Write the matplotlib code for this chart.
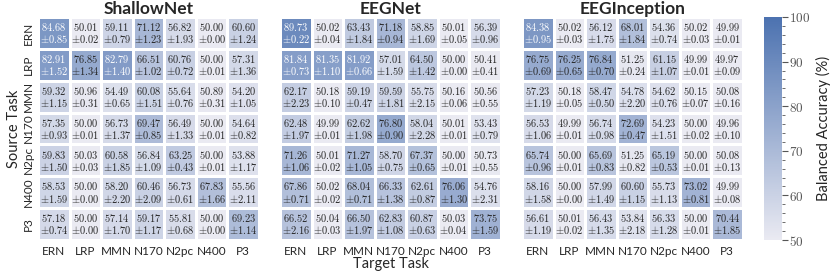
import numpy as np
import matplotlib
matplotlib.use("Agg")
import matplotlib.pyplot as plt
from matplotlib.colors import LinearSegmentedColormap

plt.rcParams["mathtext.fontset"] = "cm"
plt.rcParams["font.family"] = ["Lato", "DejaVu Sans"]

# === Data ===
tasks = ["ERN", "LRP", "MMN", "N170", "N2pc", "N400", "P3"]
models = ["ShallowNet", "EEGNet", "EEGInception"]

shallow_mean = [
    [84.68, 50.01, 59.11, 71.12, 56.82, 50.00, 60.60],
    [82.91, 76.85, 82.79, 66.51, 60.76, 50.00, 57.31],
    [59.32, 50.96, 54.49, 60.08, 55.64, 50.89, 54.20],
    [57.35, 50.00, 56.73, 69.47, 56.49, 50.00, 54.64],
    [59.83, 50.03, 60.58, 56.84, 63.25, 50.00, 53.88],
    [58.53, 50.00, 58.20, 60.46, 56.73, 67.83, 55.56],
    [57.18, 50.00, 57.14, 59.17, 55.81, 50.00, 69.23],
]
shallow_std = [
    [0.85, 0.02, 0.79, 1.23, 1.93, 0.00, 1.24],
    [1.52, 1.34, 1.40, 1.02, 0.72, 0.01, 1.36],
    [1.15, 0.31, 0.65, 1.51, 0.76, 0.31, 1.05],
    [0.93, 0.01, 1.37, 0.85, 1.33, 0.01, 0.82],
    [1.50, 0.03, 1.85, 1.09, 0.43, 0.01, 1.17],
    [1.59, 0.00, 2.20, 2.09, 0.61, 1.66, 2.11],
    [0.74, 0.00, 1.70, 1.17, 0.68, 0.00, 1.14],
]
shallow_bold = [(0, 2), (0, 3), (1, 2), (3, 2), (4, 2), (5, 2), (6, 2)]

eegnet_mean = [
    [89.73, 50.02, 63.43, 71.18, 58.85, 50.01, 56.39],
    [81.84, 81.35, 81.92, 57.01, 64.50, 50.00, 50.41],
    [62.17, 50.18, 59.19, 59.59, 55.75, 50.16, 50.56],
    [62.48, 49.99, 62.62, 76.80, 58.04, 50.01, 53.43],
    [71.26, 50.01, 71.27, 58.70, 67.37, 50.00, 50.73],
    [67.86, 50.02, 68.04, 66.33, 62.61, 76.06, 54.76],
    [66.52, 50.04, 66.50, 62.83, 60.87, 50.03, 73.75],
]
eegnet_std = [
    [0.22, 0.04, 1.84, 0.94, 1.69, 0.05, 0.96],
    [0.73, 1.10, 0.66, 1.59, 1.42, 0.00, 0.41],
    [2.23, 0.10, 0.47, 1.81, 2.15, 0.06, 0.55],
    [1.97, 0.01, 1.98, 0.90, 2.28, 0.01, 0.79],
    [1.06, 0.02, 1.05, 0.75, 0.65, 0.01, 0.55],
    [0.71, 0.02, 0.71, 1.38, 0.87, 1.30, 2.31],
    [2.16, 0.03, 1.97, 1.08, 0.63, 0.04, 1.59],
]
eegnet_bold = [(0, 2), (1, 2), (3, 2), (4, 2), (5, 2), (6, 2)]

incep_mean = [
    [84.38, 50.02, 56.12, 68.01, 54.36, 50.02, 49.99],
    [76.75, 76.25, 76.84, 51.25, 61.15, 49.99, 49.97],
    [57.23, 50.18, 58.47, 54.78, 54.62, 50.15, 50.08],
    [56.53, 49.99, 56.74, 72.69, 54.23, 50.00, 49.96],
    [65.74, 50.00, 65.69, 51.25, 65.19, 50.00, 50.08],
    [58.16, 50.00, 57.99, 60.60, 55.73, 73.02, 49.99],
    [56.61, 50.01, 56.43, 53.84, 56.33, 50.00, 70.44],
]
incep_std = [
    [0.95, 0.03, 1.75, 1.84, 0.74, 0.03, 0.01],
    [0.69, 0.65, 0.70, 0.24, 1.07, 0.01, 0.09],
    [1.19, 0.05, 0.50, 2.20, 0.76, 0.07, 0.16],
    [1.06, 0.01, 0.98, 0.47, 1.51, 0.02, 0.10],
    [0.96, 0.01, 0.83, 0.82, 0.53, 0.01, 0.13],
    [1.58, 0.00, 1.49, 1.15, 1.13, 0.81, 0.08],
    [1.19, 0.02, 1.35, 2.18, 1.28, 0.01, 1.85],
]
incep_bold = [(1, 2), (4, 2)]

all_means = [shallow_mean, eegnet_mean, incep_mean]
all_stds = [shallow_std, eegnet_std, incep_std]
all_bold = [shallow_bold, eegnet_bold, incep_bold]

# === Style ===
cmap = LinearSegmentedColormap.from_list("acc", ["#EAEAF2", "#4C72B0"])
VMIN, VMAX = 50, 100
TXT = "#262626"

fig = plt.figure(figsize=(8.3, 2.75), dpi=100)
W, H = 830, 275
lefts = [38, 280, 522]
bottom = (H - 240) / H
height = 223 / H
width = 221 / W

for k, name in enumerate(models):
    ax = fig.add_axes([lefts[k] / W, bottom, width, height])
    m = np.array(all_means[k])
    s = np.array(all_stds[k])
    mesh = ax.pcolormesh(m, cmap=cmap, vmin=VMIN, vmax=VMAX,
                         edgecolors="white", linewidth=1.0)
    ax.set_xlim(0, 7)
    ax.set_ylim(7, 0)
    for i in range(7):
        for j in range(7):
            col = "white" if m[i, j] > 80 else TXT
            if (i, j) in all_bold[k]:
                top = r"$\mathbf{%.2f}$" % m[i, j]
            else:
                top = r"$%.2f$" % m[i, j]
            ax.text(j + 0.5, i + 0.32, top, ha="center", va="center",
                    fontsize=7.5, color=col)
            ax.text(j + 0.5, i + 0.70, r"$\pm%.2f$" % s[i, j], ha="center",
                    va="center", fontsize=7.5, color=col)
    ax.set_xticks(np.arange(7) + 0.5)
    ax.set_xticklabels(tasks, fontsize=8.5, color=TXT)
    ax.tick_params(length=0, pad=4)
    if k == 0:
        ax.set_yticks(np.arange(7) + 0.5)
        ax.set_yticklabels(tasks, fontsize=8.5, rotation=90, va="center",
                           color=TXT)
        ax.tick_params(axis="y", pad=3)
        ax.set_ylabel("Source Task", fontsize=10.5, labelpad=1, color=TXT)
    else:
        ax.set_yticks([])
    if k == 1:
        ax.set_xlabel("Target Task", fontsize=10.5, labelpad=0, color=TXT)
    ax.set_title(name, fontsize=12.5, fontweight="bold", pad=2, color=TXT)
    for sp in ax.spines.values():
        sp.set_visible(False)

# === Colorbar ===
cax = fig.add_axes([764 / W, bottom, 18 / W, height])
cb = fig.colorbar(mesh, cax=cax)
cb.outline.set_visible(False)
cb.set_ticks(np.arange(50, 101, 10))
cb.set_ticklabels([r"$%d$" % t for t in range(50, 101, 10)])
cb.ax.set_yticks(np.arange(50, 101, 2), minor=True)
cb.ax.tick_params(which="major", length=4, width=0.8, labelsize=9.5, color="#555555",
                  labelcolor="#555555", pad=1)
cb.ax.tick_params(which="minor", length=2, width=0.6, color="#555555")
cb.set_label("Balanced Accuracy (%)", fontsize=10.5, color=TXT, labelpad=4)

fig.savefig("out.png", dpi=100)
